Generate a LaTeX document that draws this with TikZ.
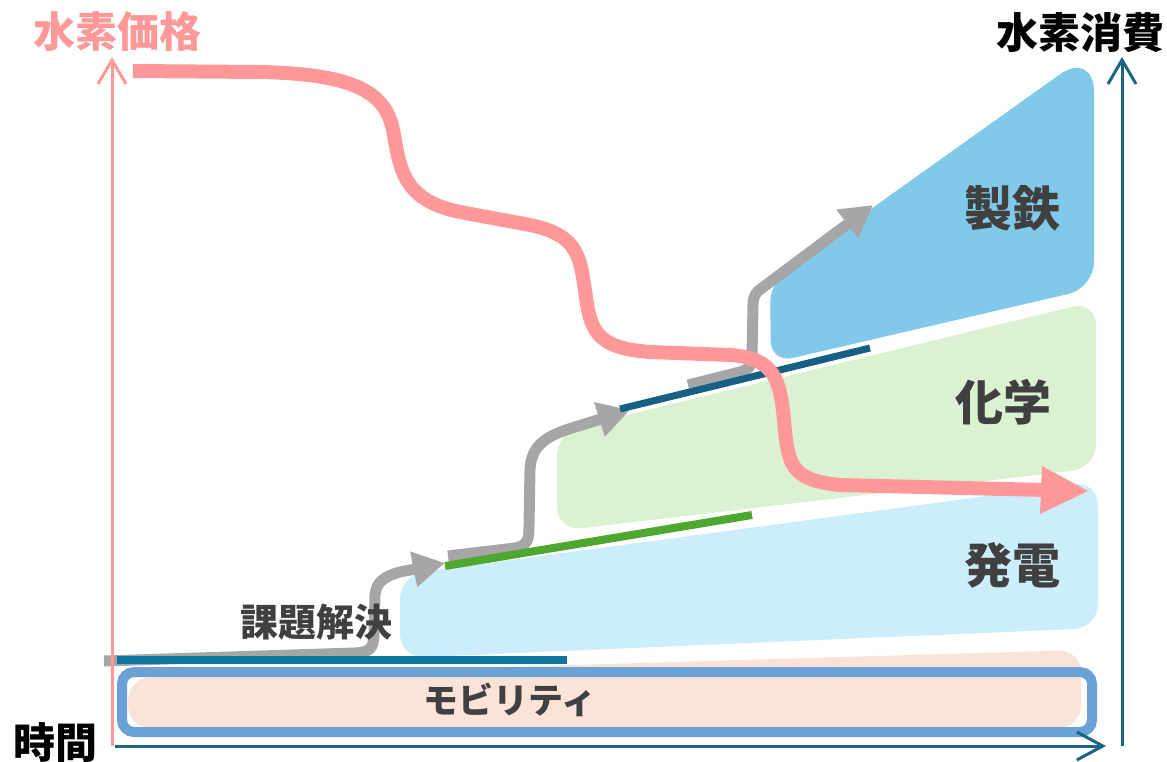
\documentclass[tikz,border=0pt]{standalone}
\usepackage{fontspec}
\usetikzlibrary{arrows.meta}
\newfontfamily\cjk{Noto Sans CJK JP}
\definecolor{pinkc}{RGB}{255,153,153}
\definecolor{axisblue}{RGB}{27,100,133}
\definecolor{tealone}{RGB}{14,118,158}
\definecolor{navytwo}{RGB}{22,96,133}
\definecolor{greenl}{RGB}{78,167,46}
\definecolor{grayc}{RGB}{166,166,166}
\definecolor{steel}{RGB}{130,201,233}
\definecolor{mint}{RGB}{218,242,210}
\definecolor{sky}{RGB}{204,237,251}
\definecolor{peach}{RGB}{251,227,215}
\definecolor{boxblue}{RGB}{106,162,216}
\definecolor{labelgray}{RGB}{64,64,64}
\tikzset{
  region/.style={rounded corners=24pt},
  axisline/.style={line width=3pt},
  stepline/.style={line width=8pt},
  grayarrow/.style={grayc, line width=11pt, -{Triangle[length=32pt,width=34pt]}},
  title/.style={font=\cjk\bfseries\fontsize{42}{42}\selectfont, inner sep=0pt},
  label/.style={font=\cjk\bfseries\fontsize{48}{48}\selectfont, text=labelgray, inner sep=0pt},
  smalllabel/.style={font=\cjk\bfseries\fontsize{38}{38}\selectfont, text=labelgray, inner sep=0pt},
  mobilabel/.style={font=\cjk\bfseries\fontsize{35}{35}\selectfont, text=labelgray, inner sep=0pt}
}
\begin{document}
\begin{tikzpicture}[x=1pt,y=-1pt]
\useasboundingbox (0,0) rectangle (1167,762);
% regions
\fill[peach, rounded corners=22pt] (128,678) -- (1081,650) -- (1081,728) -- (128,728) -- cycle;
\fill[sky, region] (400,575) -- (1098,481) -- (1098,628) -- (400,658) -- cycle;
\fill[mint, region] (557,432) -- (1096,301) -- (1096,468) -- (557,531) -- cycle;
\fill[steel, rounded corners=24pt] (770,281) [rounded corners=42pt] -- (1094,50) [rounded corners=26pt] -- (1094,288) [rounded corners=22pt] -- (771,363) -- cycle;
% mobility box
\draw[boxblue, line width=10pt, rounded corners=12pt] (122,672) rectangle (1092,732);
% coordinates
\coordinate (g1s) at (104,661);
\coordinate (g1e) at (445,563);
\coordinate (g2s) at (448,556);
\coordinate (g2e) at (630,410);
\coordinate (g3s) at (688,385);
\coordinate (g3e) at (873,205);
% gray arrows
\draw[grayarrow] (g1s) -- (355,653) .. controls (371,652) and (373,648) .. (374,635) -- (375,595) .. controls (376,582) and (385,576) .. (400,572) -- (g1e);
\draw[grayarrow] (g2s) -- (515,548) .. controls (528,545) and (529,540) .. (529,525) -- (530,470) .. controls (531,446) and (545,436) .. (575,427) -- (g2e);
\draw[grayarrow] (g3s) -- (740,372) .. controls (750,369) and (752,365) .. (752,355) -- (753,305) .. controls (753,296) and (756,292) .. (762,288) -- (g3e);
% step lines
\coordinate (t1s) at (117,660);
\coordinate (t1e) at (567,660);
\coordinate (gls) at (445,566);
\coordinate (gle) at (752,515);
\coordinate (n2s) at (620,409);
\coordinate (n2e) at (870,348);
\draw[tealone, stepline] (t1s) -- (t1e);
\draw[greenl, stepline] (gls) -- (gle);
\draw[navytwo, line width=7pt] (n2s) -- (n2e);
% axes
\coordinate (o) at (112,746);
\coordinate (ptop) at (112,57);
\coordinate (xs) at (115,746);
\coordinate (xe) at (1106,746);
\coordinate (ys) at (1122,746);
\coordinate (ye) at (1122,57);
\draw[pinkc, axisline, -{Straight Barb[length=24pt,width=28pt]}] (o) -- (ptop);
\draw[axisblue, axisline, -{Straight Barb[length=26pt,width=28pt]}] (xs) -- (xe);
\draw[axisblue, axisline, -{Straight Barb[length=24pt,width=28pt]}] (ys) -- (ye);
% price curve
\coordinate (ps) at (133,71);
\coordinate (pe) at (1045,490);
\draw[pinkc, line width=14pt] (ps) -- (260,72)
  .. controls (350,74) and (385,90) .. (393,130)
  .. controls (400,165) and (400,200) .. (460,212)
  -- (530,225)
  .. controls (580,235) and (580,260) .. (585,290)
  .. controls (590,330) and (595,348) .. (650,352)
  -- (730,355)
  .. controls (775,358) and (780,380) .. (784,420)
  .. controls (788,465) and (790,480) .. (840,485)
  -- (pe);
\fill[pinkc] (1042,466) -- (1088,491) -- (1040,514) -- cycle;
% titles
\node[title, text=pinkc] (tp) at (117,32) {水素価格};
\node[title, text=black] (tc) at (1080,33) {水素消費};
\node[title, text=black] (tt) at (55,743) {時間};
% labels
\node[label] (l1) at (1012,208) {製鉄};
\node[label] (l2) at (1003,402) {化学};
\node[label] (l3) at (1012,565) {発電};
\node[smalllabel] (l4) at (316,622) {課題解決};
\node[mobilabel] (l5) at (510,700) {モビリティ};
\end{tikzpicture}
\end{document}
